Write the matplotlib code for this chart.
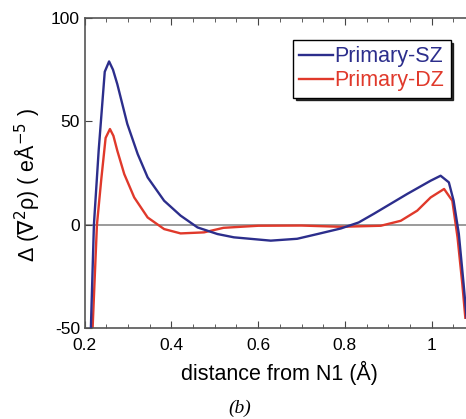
import matplotlib
matplotlib.use('Agg')
import matplotlib.pyplot as plt
from matplotlib.ticker import MultipleLocator

# distance from N1 (A) and Laplacian difference values
x_sz = [0.214, 0.221, 0.232, 0.246, 0.256, 0.265, 0.275, 0.298, 0.322, 0.345,
        0.383, 0.421, 0.46, 0.506, 0.544, 0.629, 0.69, 0.737, 0.791, 0.832,
        0.867, 0.944, 0.998, 1.021, 1.04, 1.051, 1.063, 1.074, 1.081]
y_sz = [-50, 0, 36, 74, 79, 75, 68, 48.8, 34.2, 22.9,
        11.6, 4.4, -1.3, -4.5, -6.1, -7.7, -6.8, -4.5, -1.8, 1.1,
        5.3, 14.9, 21.3, 23.7, 20.5, 11.6, -4.4, -28.6, -45]

x_dz = [0.218, 0.228, 0.238, 0.248, 0.258, 0.266, 0.275, 0.291, 0.314, 0.345,
        0.383, 0.421, 0.475, 0.52, 0.6, 0.7, 0.79, 0.883, 0.929, 0.967,
        0.998, 1.029, 1.048, 1.06, 1.071, 1.078]
y_dz = [-50, 0, 22, 42, 46.3, 43, 35.8, 24.5, 13.2, 3.5,
        -2.1, -4.2, -3.7, -1.5, -0.5, -0.4, -1.0, -0.5, 1.9, 6.8,
        13.2, 17.3, 11.6, -6.1, -28.6, -45]

labels = ['Primary-SZ', 'Primary-DZ']
colors = ['#2c2e8c', '#e0392b']

plt.rcParams['font.family'] = ['Liberation Sans', 'DejaVu Sans']
plt.rcParams['mathtext.fontset'] = 'dejavusans'
plt.rcParams['mathtext.default'] = 'rm'

fig = plt.figure(figsize=(4.66, 4.19), dpi=100)
ax = fig.add_axes([0.182, 0.217, 0.837, 0.74])

ax.axhline(0, color='#8a8a8a', lw=1.2, zorder=1)
l1, = ax.plot(x_sz, y_sz, color=colors[0], lw=1.7, zorder=3)
l2, = ax.plot(x_dz, y_dz, color=colors[1], lw=1.7, zorder=2)

ax.set_xlim(0.2, 1.1)
ax.set_ylim(-50, 100)
ax.xaxis.set_minor_locator(MultipleLocator(0.05))
ax.set_xticks([0.2, 0.4, 0.6, 0.8, 1.0])
ax.set_xticklabels(['0.2', '0.4', '0.6', '0.8', '1'])
ax.set_yticks([-50, 0, 50, 100])
ax.set_yticklabels(['-50', '0', '50', '100'])
ax.tick_params(which='both', direction='in', top=True, right=False,
               labelsize=12.5, color='#444444')
ax.tick_params(axis='x', which='major', pad=7)
ax.tick_params(which='major', length=5)
ax.tick_params(which='minor', length=3)
for s in ax.spines.values():
    s.set_color('#555555')
    s.set_linewidth(1.2)

ax.set_xlabel('distance from N1 (Å)', fontsize=15.5, labelpad=6)
ax.set_ylabel(r'Δ ($\nabla^{2}$ρ) ( eÅ$^{-5}$ )', fontsize=15.5)
ax.yaxis.set_label_coords(-0.11, 0.46)

leg = ax.legend([l1, l2], labels, loc='upper right', bbox_to_anchor=(0.938, 0.929),
                handlelength=1.55, handletextpad=0.08,
                borderpad=0.3, labelspacing=0.12, borderaxespad=0.0,
                frameon=True, fancybox=False,
                shadow={'color': 'black', 'alpha': 0.8},
                prop={'family': 'Liberation Sans', 'size': 15.5})
leg.get_frame().set_edgecolor('black')
leg.get_frame().set_linewidth(1.0)
for t, c in zip(leg.get_texts(), colors):
    t.set_color(c)

fig.text(0.515, 0.026, '(b)', fontsize=14, style='italic', family='Liberation Serif',
         ha='center', va='center')

fig.savefig('out.png', dpi=100)
